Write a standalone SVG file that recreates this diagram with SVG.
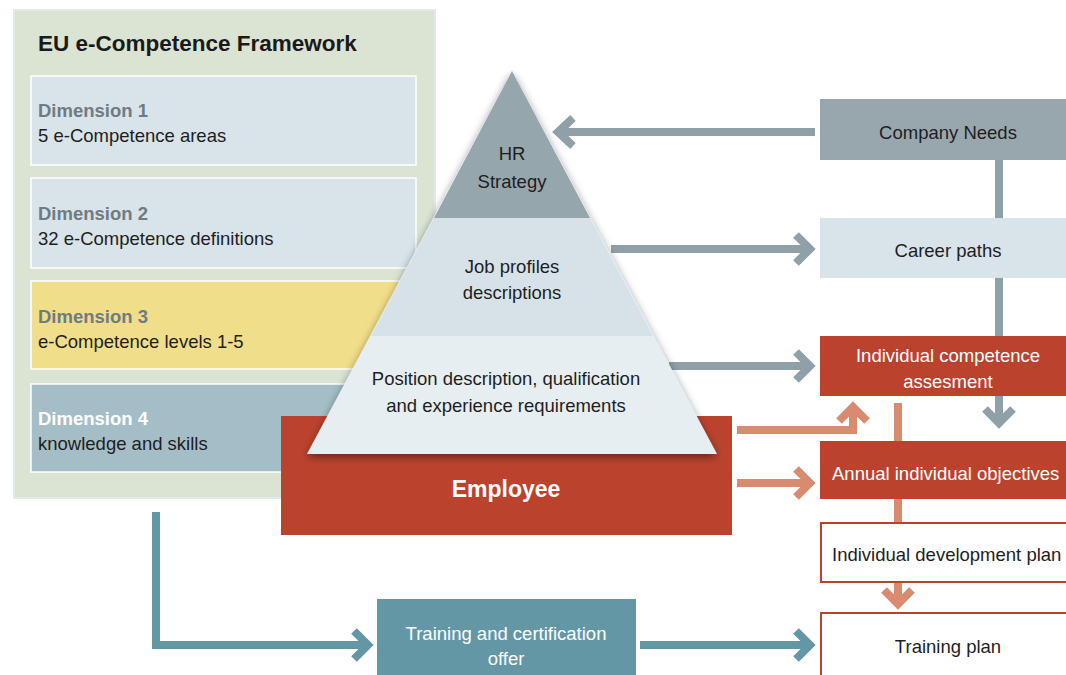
<svg xmlns="http://www.w3.org/2000/svg" width="1066" height="675" viewBox="0 0 1066 675">
<defs>
<style>
text{font-family:"Liberation Sans","Noto Sans",Arial,sans-serif;}
.t{font-size:18.5px;fill:#1e1e1e;}
.dh{font-size:18.5px;font-weight:bold;fill:#6e7c82;}
.c{text-anchor:middle;}
.w{fill:#ffffff;}
.g{fill:none;stroke:#8fa0a8;stroke-width:8;}
.o{fill:none;stroke:#d98b6f;stroke-width:8;}
.b{fill:none;stroke:#6497a6;stroke-width:8;}
</style>
<filter id="sh" x="-20%" y="-20%" width="140%" height="140%">
<feDropShadow dx="0" dy="3" stdDeviation="4" flood-color="#000" flood-opacity="0.45"/>
</filter>
</defs>

<g id="framework">
<rect x="14" y="10" width="421" height="488" fill="#dbe3d3" stroke="#e3eaee" stroke-width="2"/>
<text x="38" y="51" style="font-size:22.5px;font-weight:bold;fill:#1a1a1a">EU e-Competence Framework</text>
</g>
<g id="dim1">
<rect x="31" y="76" width="385" height="89" fill="#d9e3ea" stroke="#ffffff" stroke-width="1.5"/>
<text x="38" y="117" class="dh">Dimension 1</text>
<text x="38" y="142" class="t">5 e-Competence areas</text>
</g>
<g id="dim2">
<rect x="31" y="178" width="385" height="90" fill="#d9e3ea" stroke="#ffffff" stroke-width="1.5"/>
<text x="38" y="220" class="dh">Dimension 2</text>
<text x="38" y="245" class="t">32 e-Competence definitions</text>
</g>
<g id="dim3">
<rect x="31" y="281" width="385" height="88" fill="#f1de8a" stroke="#ffffff" stroke-width="1.5"/>
<text x="38" y="323" class="dh">Dimension 3</text>
<text x="38" y="348" class="t">e-Competence levels 1-5</text>
</g>
<g id="dim4">
<rect x="31" y="384" width="385" height="88" fill="#a5bdc6" stroke="#ffffff" stroke-width="1.5"/>
<text x="38" y="425" class="dh" style="fill:#ffffff">Dimension 4</text>
<text x="38" y="450" class="t">knowledge and skills</text>
</g>

<g id="connectors">
<line x1="815" y1="132" x2="557" y2="132" class="g"/>
<polyline points="573,118 558,132 573,146" class="g"/>
<line x1="611" y1="249" x2="810" y2="249" class="g"/>
<polyline points="796,235 810,249 796,263" class="g"/>
<line x1="669" y1="366" x2="810" y2="366" class="g"/>
<polyline points="796,352 810,366 796,380" class="g"/>
<line x1="999" y1="160" x2="999" y2="423" class="g"/>
<polyline points="985,409 999,423 1013,409" class="g"/>
<polyline points="737,430 853,430 853,409" class="o"/>
<polyline points="839,421 853,407 867,421" class="o"/>
<line x1="737" y1="483" x2="810" y2="483" class="o"/>
<polyline points="796,469 810,483 796,497" class="o"/>
<line x1="898" y1="403" x2="898" y2="604" class="o"/>
<polyline points="884,590 898,604 912,590" class="o"/>
<polyline points="156,512 156,645 368,645" class="b"/>
<polyline points="354,631 368,645 354,659" class="b"/>
<line x1="640" y1="645" x2="810" y2="645" class="b"/>
<polyline points="796,631 810,645 796,659" class="b"/>
</g>

<g id="employee">
<rect x="281" y="416" width="451" height="119" fill="#bb432e"/>
<text x="506" y="497" class="c w" style="font-size:23px;font-weight:bold">Employee</text>
</g>

<g id="pyramid">
<polygon points="512,71 717,454 307,454" fill="#e6eef2" filter="url(#sh)"/>
<polygon points="512,71 590,218 434,218" fill="#96a6ad"/>
<polygon points="434,218 590,218 653,336 371,336" fill="#d7e2e8"/>
<text x="512" y="160" class="t c">HR</text>
<text x="512" y="188" class="t c">Strategy</text>
<text x="512" y="273" class="t c">Job profiles</text>
<text x="512" y="299" class="t c">descriptions</text>
<text x="506" y="385" class="t c">Position description, qualification</text>
<text x="506" y="412" class="t c">and experience requirements</text>
</g>

<g id="company-needs">
<rect x="820" y="99" width="250" height="61" fill="#98a7ae"/>
<text x="948" y="139" class="t c">Company Needs</text>
</g>
<g id="career-paths">
<rect x="820" y="218" width="250" height="60" fill="#d9e3ea"/>
<text x="948" y="257" class="t c">Career paths</text>
</g>
<g id="competence-assessment">
<rect x="820" y="336" width="250" height="60" fill="#bb432e"/>
<text x="948" y="362" class="t c w">Individual competence</text>
<text x="948" y="388" class="t c w">assesment</text>
</g>
<g id="annual-objectives">
<rect x="820" y="441" width="250" height="58" fill="#bb432e"/>
<text x="832" y="480" class="t w">Annual individual objectives</text>
</g>
<g id="development-plan">
<rect x="821" y="523" width="250" height="59" fill="#ffffff" stroke="#bb432e" stroke-width="2"/>
<text x="832" y="561" class="t">Individual development plan</text>
</g>
<g id="training-plan">
<rect x="821" y="613" width="250" height="70" fill="#ffffff" stroke="#bb432e" stroke-width="2"/>
<text x="948" y="653" class="t c">Training plan</text>
</g>
<g id="training-offer">
<rect x="377" y="599" width="259" height="80" fill="#6497a6"/>
<text x="506" y="640" class="t c w">Training and certification</text>
<text x="506" y="665" class="t c w">offer</text>
</g>
</svg>
